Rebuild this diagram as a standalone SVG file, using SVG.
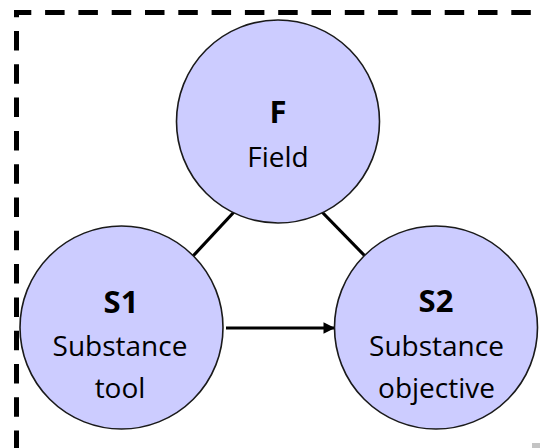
<svg xmlns="http://www.w3.org/2000/svg" width="540" height="448" viewBox="0 0 540 448">
<defs>
<style>
.node{fill:#ccccff;stroke:#1a1a1a;stroke-width:1.6}
.t{font-family:"Open Sans","Noto Sans","Liberation Sans",sans-serif;font-size:28px;fill:#000;text-anchor:middle}
.b{font-weight:bold;font-size:31px}
.edge{stroke:#000;stroke-width:3.2;fill:none}
</style>
<marker id="arr" viewBox="0 0 10 10" refX="10" refY="5" markerWidth="4.2" markerHeight="3.6" markerUnits="strokeWidth" orient="auto">
<path d="M0,0 L10,5 L0,10 z" fill="#000"/>
</marker>
</defs>
<rect x="0" y="0" width="540" height="448" fill="#ffffff"/>
<path d="M16.5,448 V12.5 H540" fill="none" stroke="#000" stroke-width="5" stroke-dasharray="19.5 13.8" stroke-dashoffset="2.1" stroke-linejoin="miter"/>
<rect x="532" y="443" width="8" height="5" fill="#c4c4c4"/>
<g id="connectors">
<line class="edge" x1="193" y1="256" x2="234" y2="212"/>
<line class="edge" x1="322" y1="212" x2="365" y2="256"/>
<line class="edge" x1="226" y1="328" x2="335" y2="328" marker-end="url(#arr)"/>
</g>
<g id="node-F">
<circle class="node" cx="278" cy="121.5" r="101.5"/>
<text class="t b" x="278" y="123">F</text>
<text class="t" x="278" y="167">Field</text>
</g>
<g id="node-S1">
<circle class="node" cx="121.5" cy="327.5" r="101.5"/>
<text class="t b" x="121" y="313">S1</text>
<text class="t" x="120" y="356">Substance</text>
<text class="t" x="120" y="398">tool</text>
</g>
<g id="node-S2">
<circle class="node" cx="436" cy="327.5" r="101.5"/>
<text class="t b" x="436" y="312">S2</text>
<text class="t" x="436.5" y="356">Substance</text>
<text class="t" x="436.5" y="398">objective</text>
</g>
</svg>
